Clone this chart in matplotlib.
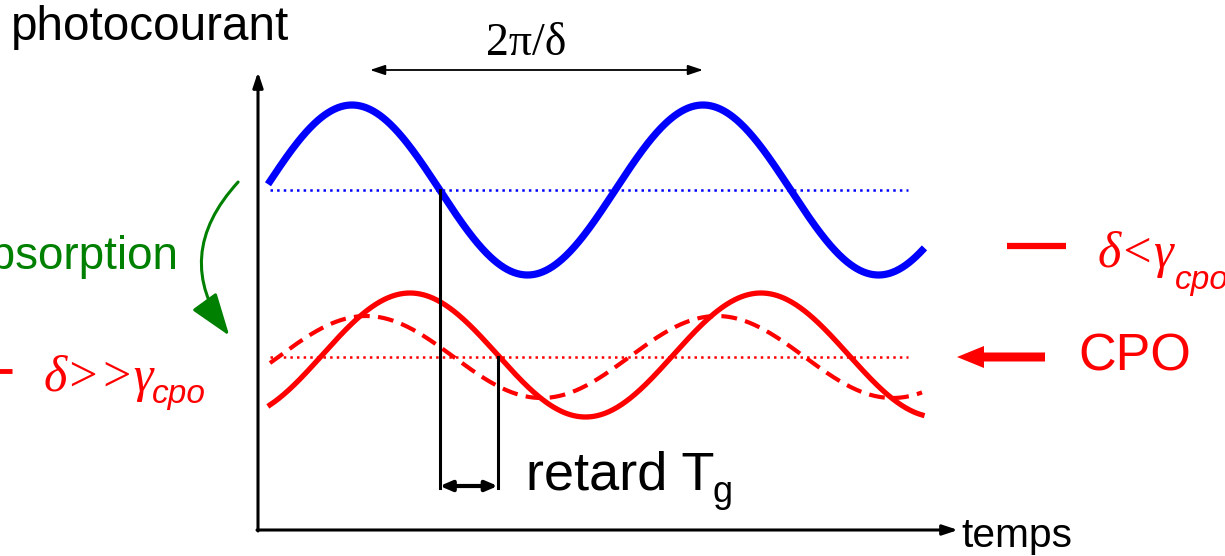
import numpy as np
import matplotlib
matplotlib.use("Agg")
import matplotlib.pyplot as plt
from matplotlib.patches import FancyArrowPatch

# time window of the traces (canvas units, y grows downward)
t_start, t_end = 270, 922
period = 351            # 2*pi/delta

# each trace: [baseline, amplitude, time of first maximum]
blue_wave = [190, 85, 352]
red_wave = [355, 62, 410]
red_dashed_wave = [357, 41, 366]

BLUE = "#0000ff"
RED = "#ff0000"
GREEN = "#008000"


def wave(t, params):
    base, amp, t_peak = params
    return base - amp * np.cos(2 * np.pi * (t - t_peak) / period)


fig = plt.figure(figsize=(12.25, 5.56), dpi=100)
ax = fig.add_axes([0, 0, 1, 1])
ax.set_xlim(0, 1225)
ax.set_ylim(556, 0)
ax.axis("off")

t = np.linspace(t_start, t_end, 600)

# baselines
ax.plot([t_start, 908], [blue_wave[0]] * 2, ls=":", color=BLUE, lw=1.8)
ax.plot([t_start, 908], [red_dashed_wave[0]] * 2, ls=":", color=RED, lw=1.8)

ax.plot(t, wave(t, red_dashed_wave), color=RED, lw=3, ls=(0, (3.8, 2)))
ax.plot(t, wave(t, red_wave), color=RED, lw=3.8)
ax.plot(t, wave(t, blue_wave), color=BLUE, lw=5.2)

# axes
x0, y0 = 258, 530
ax.annotate("", xy=(x0, 72), xytext=(x0, y0 + 1),
            arrowprops=dict(arrowstyle="-|>,head_length=0.9,head_width=0.3",
                            color="k", lw=2.2, shrinkA=0, shrinkB=0))
ax.annotate("", xy=(958, y0), xytext=(x0 - 1, y0),
            arrowprops=dict(arrowstyle="-|>,head_length=0.9,head_width=0.3",
                            color="k", lw=2.2, shrinkA=0, shrinkB=0))
ax.text(11, 28, "photocourant", fontsize=34.3, family="Liberation Sans",
        ha="left", va="center")
ax.text(961, 536, "temps", fontsize=29.3, family="Liberation Sans",
        ha="left", va="center")

# period marker
ax.annotate("", xy=(370, 70), xytext=(703, 70),
            arrowprops=dict(arrowstyle="<|-|>,head_length=0.9,head_width=0.3",
                            color="k", lw=1.3, shrinkA=0, shrinkB=0))
ax.text(526, 44, "2π/δ", fontsize=33, family="Liberation Serif",
        ha="center", va="center")

# group delay between the two zero crossings
x_blue = blue_wave[2] + period / 4
x_red = red_wave[2] + period / 4
y_low = 488
ax.plot([x_blue, x_blue], [blue_wave[0], y_low], color="k", lw=2.2)
ax.plot([x_red, x_red], [red_dashed_wave[0], y_low], color="k", lw=2.2)
ax.annotate("", xy=(x_blue, 486), xytext=(x_red, 486),
            arrowprops=dict(arrowstyle="<|-|>,head_length=0.7,head_width=0.3",
                            color="k", lw=3, shrinkA=0, shrinkB=0))
ax.text(526, 490, "retard T", fontsize=39, family="Liberation Sans",
        ha="left", va="baseline")
ax.text(713, 502, "g", fontsize=26, family="Liberation Sans",
        ha="left", va="baseline")

# absorption arrow
ax.add_patch(FancyArrowPatch((240, 180), (231, 338),
                             connectionstyle="arc3,rad=0.42",
                             arrowstyle="-|>,head_length=12,head_width=4.2",
                             color=GREEN, lw=2.2, mutation_scale=2.2))
ax.text(178, 257, "absorption", fontsize=33, family="Liberation Sans",
        color=GREEN, ha="right", va="center")

# legend on the left
ax.plot([-30, 12], [371, 371], color=RED, lw=3.5, solid_capstyle="butt")
ax.text(44, 378, "δ>>γ", fontsize=36, family="Liberation Serif",
        style="italic", color=RED, ha="left", va="center")
ax.text(152, 395, "cpo", fontsize=24, family="Liberation Sans",
        style="italic", color=RED, ha="left", va="center")

# legend on the right
ax.plot([1007, 1066], [246, 246], color=RED, lw=4.5, solid_capstyle="butt")
ax.text(1098, 255, "δ<γ", fontsize=36, family="Liberation Serif",
        style="italic", color=RED, ha="left", va="center")
ax.text(1175, 280, "cpo", fontsize=24, family="Liberation Sans",
        style="italic", color=RED, ha="left", va="center")

ax.arrow(1045, 357, -88, 0, width=9, head_width=22, head_length=27,
         length_includes_head=True, color=RED, lw=0)
ax.text(1078, 357, "CPO", fontsize=37.5, family="Liberation Sans",
        color=RED, ha="left", va="center")

fig.savefig("out.png", dpi=100)
